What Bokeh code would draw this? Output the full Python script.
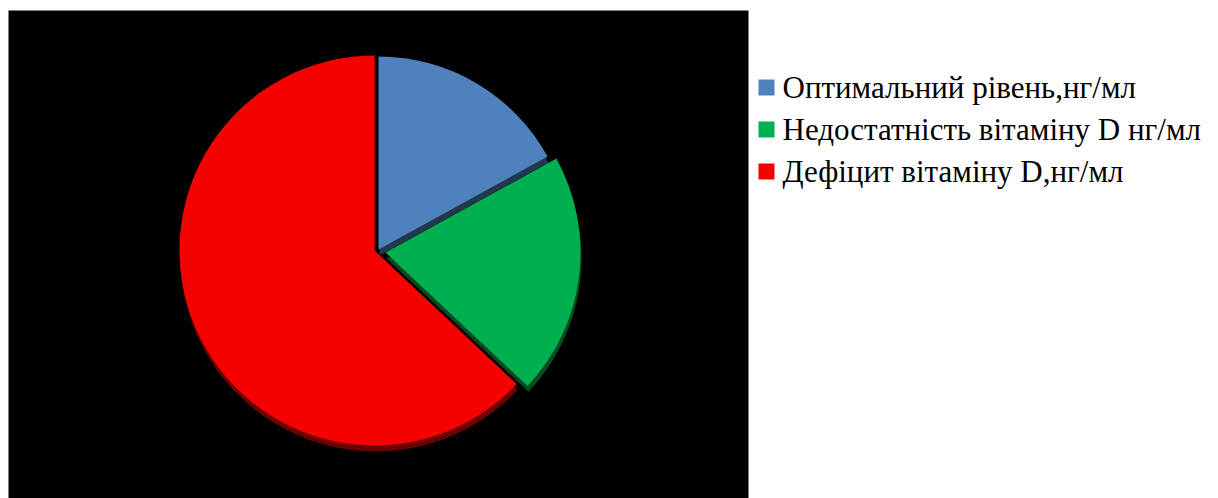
import numpy as np
from bokeh.plotting import figure
from bokeh.models import Range1d, BoxAnnotation, ColumnDataSource
from bokeh.core.properties import value
from bokeh.embed import file_html
from bokeh.resources import INLINE

# ---- data ----
categories = [
    "Оптимальний рівень,нг/мл",
    "Недостатність вітаміну D нг/мл",
    "Дефіцит вітаміну D,нг/мл",
]
shares = [17, 20, 63]

# ---- style ----
colors = ["#4F81BD", "#00B050", "#F70000"]
shadow_colors = ["#22384F", "#0A4A20", "#6A0000"]

W, H = 1218, 498
p = figure(width=W, height=H, x_range=Range1d(0, W), y_range=Range1d(0, H),
           output_backend="svg", toolbar_location=None, min_border=0)
p.axis.visible = False
p.grid.visible = False
p.outline_line_color = None
p.background_fill_color = "white"
p.border_fill_color = "white"

p.add_layout(BoxAnnotation(left=8, right=748, bottom=0, top=H - 10,
                           fill_color="black", fill_alpha=1.0,
                           line_color=None, level="underlay"))

fr = np.array(shares, dtype=float) / sum(shares)
cum = np.concatenate([[0.0], np.cumsum(fr)])
start = np.pi / 2 - 2 * np.pi * cum[:-1]
end = np.pi / 2 - 2 * np.pi * cum[1:]

# slight explosion of each slice (screen px)
cx = np.array([378, 385, 374])
cy = H - np.array([249, 252, 250])
rad = np.array([193, 195, 195])

shadow = ColumnDataSource(dict(x=cx + 1, y=cy - 6, r=rad, s=start, e=end, c=shadow_colors))
p.wedge(x="x", y="y", radius="r", start_angle="s", end_angle="e", direction="clock",
        fill_color="c", line_color=None, source=shadow)

main = ColumnDataSource(dict(x=cx, y=cy, r=rad, s=start, e=end, c=colors, name=categories))
p.wedge(x="x", y="y", radius="r", start_angle="s", end_angle="e", direction="clock",
        fill_color="c", line_color=None, source=main)

# legend
idx = np.arange(len(categories))
ly = H - (87 + 42 * idx)
leg = ColumnDataSource(dict(x=np.full(len(idx), 766.0), tx=np.full(len(idx), 782.0),
                            y=ly, c=colors, t=categories))
p.rect(x="x", y="y", width=16, height=16, fill_color="c", line_color=None, source=leg)
p.text(x="tx", y="y", text="t", source=leg, text_font=value("Liberation Serif"),
       text_font_size="31px", text_baseline="middle", text_align="left", text_color="black")

open("out.html", "w").write(file_html(p, INLINE))
